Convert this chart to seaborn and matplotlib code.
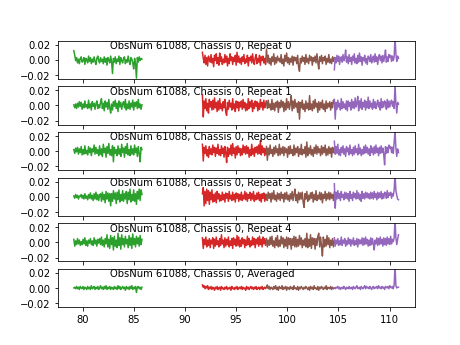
import numpy as np
import pandas as pd
import matplotlib
matplotlib.use("Agg")
import matplotlib.pyplot as plt
import seaborn as sns

# Panel labels
titles = ["ObsNum 61088, Chassis 0, Repeat 0",
          "ObsNum 61088, Chassis 0, Repeat 1",
          "ObsNum 61088, Chassis 0, Repeat 2",
          "ObsNum 61088, Chassis 0, Repeat 3",
          "ObsNum 61088, Chassis 0, Repeat 4",
          "ObsNum 61088, Chassis 0, Averaged"]

# Frequency span of each band segment (GHz)
band_start = [79.13, 91.70, 97.96, 104.60]
band_end = [85.79, 97.96, 104.60, 110.87]
band_colors = ["#2ca02c", "#d62728", "#8c564b", "#9467bd"]

# Spectra values in units of 0.001, per panel, per band
green = [
    [12, 6, -1, 3, -4, 1, -5, 2, 4, -3, -1, 3, -6, 2, 0,
     -4, 5, -2, 3, -5, 1, -3, 4, -2, -6, 2, 5, -1, -4, 3,
     -2, 1, -5, 4, -3, 2, -7, 3, 0, -4, 5, -2, -18, 2, -3,
     4, -5, 1, -2, 5, -6, 3, -1, -4, 2, 4, -5, 0, -3, 5,
     -2, -6, 3, 1, -4, -12, 2, -5, -24, 3, -3, 4, -1, 2, 1],
    [1, -3, 2, -4, 3, -2, 5, -1, 4, -5, 2, -3, 6, -2, 1,
     -4, 7, -3, 2, -6, 5, -1, 3, -5, 2, 6, -4, 1, -3, 4,
     9, -4, 3, -7, 6, -2, 4, -5, 8, -3, -10, 2, -6, 5, -1,
     7, -4, 3, -8, 6, -2, 4, -5, 2, 5, -3, 8, -6, 2, -4,
     6, -5, 3, -2, 7, -6, 4, -1, 5, -4, 8, -3, 2, -5, 1],
    [2, -3, 4, -1, 5, -4, 3, -2, 6, -5, 2, -4, 7, -3, 1,
     -5, 6, -2, 4, -6, 3, -1, 8, -4, 5, -3, 2, -6, 7, -4,
     3, -7, 9, -2, 4, -8, 6, -3, 10, -5, 2, -6, 7, -14, 5,
     -3, 2, -6, 7, -4, 3, -7, 9, -2, 4, -8, 6, -3, 10, -5,
     2, -6, 7, -4, 3, -5, 8, -2, 4, -7, 6, -3, -14, 5, 2],
    [1, -2, 3, -1, 2, -3, 1, 0, 3, -2, 2, -3, 4, -2, 1,
     -4, 3, -2, 5, -3, 2, -5, 4, -3, 6, -4, 3, -5, 2, 4,
     -6, 6, -4, 3, -8, 7, -3, 5, -6, 4, -12, 4, -6, 8, -3,
     5, -9, 6, -4, 9, -7, 3, -5, 8, -6, 4, -3, 7, -9, 6,
     -4, 10, -7, 3, -5, 9, -6, 4, -10, 7, -3, 10, -5, 9, 3],
    [4, -5, 2, -3, 5, -2, 3, -4, 1, -3, 4, -2, 6, -4, 2,
     -5, 3, -1, 5, -3, 2, -4, 6, -2, 3, -5, 4, -1, 5, -3,
     7, -4, 3, -6, 5, -2, 10, -6, 4, -8, 9, -3, 6, -10, 8,
     -5, 3, -7, 12, -4, 6, -9, 10, -3, 5, -6, 8, -2, 4, -7,
     9, -4, 6, -8, 11, -3, 5, -6, 8, -2, 6, -5, 9, -3, 4],
    [0, 1, -1, 2, -1, 1, -2, 2, 0, -1, 2, -2, 1, 0, -2,
     2, -1, 1, -2, 3, -1, 0, 2, -2, 1, -1, 2, -2, 0, 3,
     -1, 1, -2, 2, -1, 3, -2, 1, -1, 2, -2, 1, 0, -2, 2,
     -1, 1, -2, 3, -1, 2, -2, 0, 2, -1, 1, -3, 2, -1, 1,
     -2, 2, -1, 3, -2, 1, -1, 2, -6, 1, 2, -1, 1, -2, 1],
]
red = [
    [10, 2, -4, 6, -6, 3, -8, 5, 1, -3, 7, -4, 2, -9, 6,
     -1, 8, -5, 3, -7, 9, -2, 4, -6, 1, -4, 7, -3, 5, -8,
     2, -5, 8, -1, 4, -6, 3, -2, 6, -7, 10, -3, 5, -4, 2,
     -6, 4, -2, 7, -5, 1, -3, 6, -8, 3, -1, 5, -4, 8, -2,
     -6, 3, 7, -5, 2, -3, 6, -7, 4, -1, 5, -4, 2, -6, 11],
    [14, -15, 6, -4, 9, -7, 3, -10, 8, -2, 5, -6, 7, -5, 10,
     -3, 4, -8, 6, -6, 9, -4, 2, -7, 5, -3, 8, -9, -13, 4,
     -5, 7, -2, 3, -6, 9, -4, 2, -8, 6, -3, 5, -7, 4, -2,
     6, -5, 8, -3, 4, -7, 2, -6, 9, -4, 5, -2, 7, -8, 3,
     -4, 6, -1, 5, -7, 3, -5, 8, -2, 4, -6, 7, -3, 2, 6],
    [9, -13, 5, -3, 7, -6, 2, -8, 6, -4, 3, -5, 8, -2, 5,
     -7, 4, -3, 9, -5, 2, -6, 7, -3, 4, -8, 6, -2, -15, 5,
     -7, 3, -4, 8, -6, 10, -3, 4, -9, 6, -5, 7, -2, 4, -6,
     3, -5, 8, -2, 6, -4, 7, -3, 5, -8, 2, -6, 9, -4, 3,
     -7, 5, -2, 6, -4, 8, -3, 14, -5, 7, -2, 4, -6, 3, -4],
    [4, 12, -12, 7, -9, 10, -5, 8, -10, 6, -4, 9, -7, 3, -6,
     5, -8, 7, -3, 4, -6, 2, -5, 6, -4, 3, -7, 5, -2, 4,
     -6, 7, -3, 2, -5, 6, -4, 3, -7, 5, -2, 4, -6, 3, -4,
     6, -5, 2, -3, 7, -4, 5, -6, 3, -2, 6, -5, 4, -3, 7,
     -6, 2, -4, 5, -3, 6, -5, 3, -7, 4, -2, 5, -6, 3, -4],
    [6, -8, 4, -3, 7, -6, 3, -4, 5, -7, 3, -2, 6, -8, 4,
     -5, 7, -3, 2, -6, 5, -4, 10, -2, 3, -7, 6, -5, 4, -3,
     7, -6, 2, -4, 5, -8, 6, -3, 4, -5, 9, -4, 7, -6, 3,
     -5, 6, -2, 4, -7, 3, -4, 8, -3, 5, -6, 2, -4, 7, -3,
     5, -7, 4, -2, 6, -5, 8, -3, 4, -6, 7, -2, 5, -4, 3],
    [4, 1, 3, -1, 2, 0, 3, -2, 1, -1, 2, -2, 1, 0, -3,
     1, -1, 2, -2, 0, 1, -3, 2, -1, 0, -2, 1, -1, 2, -2,
     0, -1, 1, -3, 2, -1, 0, -2, 1, -1, 2, -2, 0, 1, -1,
     2, -2, 1, -1, 0, -3, 2, -1, 1, -2, 0, 2, -1, 1, -2,
     1, -1, 2, -2, 0, 1, -2, 1, -1, 2, -2, 0, 1, -1, 1],
]
brown = [
    [14, -3, 6, -5, 2, -7, 4, -2, 8, -6, 3, -4, 5, -1, 2,
     -3, 7, -5, 1, -8, 6, -2, 9, -4, 3, -6, 2, -3, 5, -7,
     4, -1, 3, -5, 6, -9, -15, 2, -4, 5, -2, 3, -6, 7, -3,
     2, -5, 6, -1, 4, -7, 3, -2, 5, -4, 8, -3, -12, 4, -2,
     6, -5, 3, -1, 5, -6, 2, -3, 7, -4, 1, -5, 4, -2, 3],
    [5, -4, 7, -3, 2, -6, 8, -5, 3, -7, 4, -2, 6, -9, 4,
     -3, 7, -2, 5, -8, 3, -6, 9, -3, 5, -5, 2, 13, -7, 6,
     -4, 8, -2, 3, -9, 5, -18, 4, -3, 7, -5, 2, -8, 6, -4,
     3, -6, 13, -5, 2, -7, 6, -4, 8, -2, 3, -9, 5, -6, 4,
     -3, 7, -5, 2, -8, 6, -4, 3, -2, 5, -6, 4, -3, 7, 3],
    [6, -12, 4, -5, 8, -3, 2, -7, 5, -4, 7, -2, 3, -6, 9,
     -5, 4, -3, 6, -6, 5, -2, 3, -8, 6, -4, 7, -3, 2, -6,
     8, -5, 4, -2, 6, -7, 3, -4, 9, -5, 2, -3, 6, -8, 12,
     -6, 4, -3, 7, -5, 2, -7, 5, -3, 8, -4, 6, -2, 3, -6,
     7, -4, 5, -2, 8, -6, 3, -5, 6, -3, 4, -8, 5, -2, 4],
    [3, -5, 6, -2, 4, -7, 5, -3, 8, -4, 2, -6, 5, -3, 4,
     -5, 6, -2, 3, -7, 5, -3, 6, -4, 2, -6, 4, -3, 7, -5,
     3, 10, -5, 3, -8, 6, -4, 5, -3, 6, -7, -14, 4, -3, 7,
     -6, 2, -4, 5, -2, 6, -7, 3, -4, 8, -5, 2, -3, 6, -4,
     5, -8, 3, -2, 7, -5, 4, -3, 6, -4, 5, -2, 3, -5, 6],
    [5, -6, 3, -4, 7, -3, 8, -5, 2, -7, 6, -4, 9, -6, 3,
     -5, 8, -2, 6, -7, 4, -5, 7, -8, 6, -3, 5, -9, 5, -4,
     8, -6, 7, -6, 4, -5, 9, -3, 6, -7, 3, -4, 5, -6, 12,
     -7, 4, -5, 10, -8, 6, -3, 5, -9, 5, -4, 8, 12, -6, 7,
     -5, -18, 7, -6, 4, -5, 9, -3, 6, -7, 3, -4, 5, -6, 2],
    [1, 4, -1, 2, -2, 1, 0, -2, 2, -1, 3, -2, 1, -3, 2,
     0, -1, 3, -2, 1, -1, 2, -3, 1, 0, -2, 2, -1, 1, -2,
     3, -1, 0, -2, 2, -3, 1, -1, 2, 0, -2, 1, -1, 2, 0,
     -2, 1, -3, 2, -1, 1, -2, 3, -1, 0, -2, 2, -3, 1, -1,
     2, 0, -2, 1, -1, 3, -2, 1, 0, -1, 2, -2, 1, -1, 0],
]
purple = [
    [-13, 3, -4, 6, -2, 5, -6, 2, 4, -3, 7, -1, 3, 13, -3,
     4, -5, 7, -2, 3, -6, 5, -1, 8, -4, 2, -5, 6, -3, 9,
     -2, 4, -7, 3, -1, 6, -4, 2, -6, 5, 3, -2, 7, -4, 1,
     5, -3, 8, -2, 4, -6, 3, 7, -1, 5, -4, 6, -2, 4, 13,
     -3, 4, -2, 7, 3, 6, -2, 5, -1, 4, 30, 8, -2, 5, 2],
    [8, -18, 4, -5, 7, -2, 3, -6, 9, -4, 5, -3, 2, -5, 6,
     -7, 6, -1, 4, -6, 8, -3, 5, -4, 10, -2, 3, 12, -7, 6,
     -3, 9, -5, 4, -2, 7, -6, 5, -3, 11, -4, 6, -2, 3, -5,
     8, -3, 5, -4, 2, 7, -2, 4, -6, 9, -3, 5, -2, 6, 4,
     -5, 8, -3, 6, -2, 4, 7, -1, 5, -4, 28, 3, -10, 4, 2],
    [13, -4, 6, -3, 9, -5, 2, -6, 5, -2, 7, -4, 3, -7, 6,
     -1, 4, -5, 8, -3, 2, -6, 5, -4, 7, -2, 3, -5, 9, -3,
     4, -6, 2, -4, 6, -3, 8, -2, 5, -4, 3, -6, 7, -2, 4,
     -5, 6, -3, 8, -2, 4, -6, 5, -3, 7, -2, 4, -5, -18, 6,
     -3, 5, -2, 8, 4, 6, -2, 5, -3, 12, 27, 4, -7, 3, -2],
    [17, -15, 6, -3, 8, -2, 4, -5, 7, -1, 3, -4, 6, -2, 5,
     -3, 4, -6, 7, -2, 3, -5, 6, -1, 4, -3, 8, -2, 5, -4,
     3, -6, 7, -2, 4, -3, 6, -1, 5, -2, 4, -3, 6, -2, 5,
     -3, 7, -1, 4, -4, 6, -2, 5, -1, 7, -3, 4, -2, 6, 5,
     -2, 8, -1, 5, 2, 6, -2, 4, 1, 9, 30, 8, 2, -3, -4],
    [6, -5, 3, -2, 5, -4, 2, -3, 7, -4, 3, -1, 5, -5, 2,
     -3, 6, -2, 4, -5, 3, -2, 6, -4, 2, -3, 5, -6, 4, -2,
     3, -2, 6, -4, 5, -3, 7, -2, 4, -5, 3, -4, 6, -3, 5,
     -2, -10, 3, -2, 6, -4, 5, -3, 7, -2, 4, -5, 6, -3, 5,
     -4, 7, -2, 5, -3, 8, -2, 4, 1, 6, 30, 6, -3, 4, 10],
    [0, -1, 1, 0, 2, -1, 1, -2, 0, 1, -1, 2, 0, -2, 1,
     0, -1, 2, -1, 0, 1, -2, 2, 0, -1, 1, 3, -1, 0, 1,
     -2, 2, 0, -1, 1, 3, -1, 2, 0, 1, -1, 2, 0, -2, 1,
     2, -1, 1, 0, 2, -1, 3, 0, 1, -1, 2, 0, 1, -2, 2,
     1, 0, 2, -1, 3, 1, 0, 2, -1, 4, 30, 3, 0, 1, 1],
]
bands = [green, red, brown, purple]

fig, axes = plt.subplots(6, 1, sharex=True, figsize=(6.4, 4.8))
for p, ax in enumerate(axes):
    for b in range(4):
        vals = np.array(bands[b][p], dtype=float) / 1000.0
        freq = np.linspace(band_start[b], band_end[b], len(vals))
        df = pd.DataFrame({"freq": freq, "ta": vals})
        sns.lineplot(data=df, x="freq", y="ta", ax=ax, color=band_colors[b],
                     linewidth=1.5, errorbar=None, sort=False)
    ax.set_ylim(-0.025, 0.025)
    ax.set_yticks([-0.02, 0.0, 0.02])
    ax.set_ylabel("")
    ax.set_xlabel("")
    ax.text(0.147, 0.80, titles[p], transform=ax.transAxes, fontsize=10)

axes[-1].set_xticks([80, 85, 90, 95, 100, 105, 110])
fig.savefig("out.png", dpi=72)
